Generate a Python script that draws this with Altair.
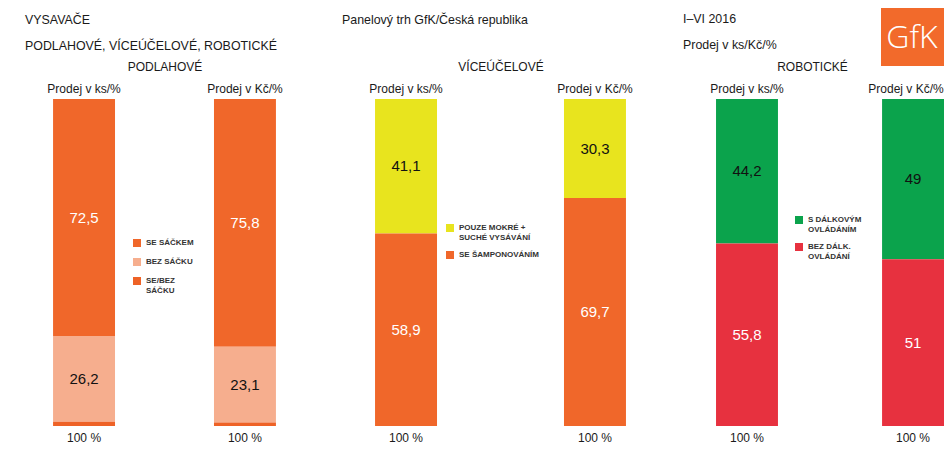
import altair as alt
import pandas as pd

measures = ["Prodej v ks/%", "Prodej v Kč/%"]

# PODLAHOVÉ
p1_cats = ["SE SÁČKEM", "BEZ SÁČKU", "SE/BEZ SÁČKU"]
p1_ks = [72.5, 26.2, 1.3]
p1_kc = [75.8, 23.1, 1.1]
p1_colors = ["#F0672A", "#F6AE8E", "#EE6226"]
p1_dark = ["BEZ SÁČKU"]

# VÍCEÚČELOVÉ
p2_cats = ["POUZE MOKRÉ + SUCHÉ VYSÁVÁNÍ", "SE ŠAMPONOVÁNÍM"]
p2_ks = [41.1, 58.9]
p2_kc = [30.3, 69.7]
p2_colors = ["#E8E41E", "#F0672A"]
p2_dark = ["POUZE MOKRÉ + SUCHÉ VYSÁVÁNÍ"]

# ROBOTICKÉ
p3_cats = ["S DÁLKOVÝM OVLÁDÁNÍM", "BEZ DÁLK. OVLÁDÁNÍ"]
p3_ks = [44.2, 55.8]
p3_kc = [49, 51]
p3_colors = ["#0BA34C", "#E7313F"]
p3_dark = ["S DÁLKOVÝM OVLÁDÁNÍM"]

legend_breaks = {
    "SE/BEZ SÁČKU": ["SE/BEZ", "SÁČKU"],
    "POUZE MOKRÉ + SUCHÉ VYSÁVÁNÍ": ["POUZE MOKRÉ +", "SUCHÉ VYSÁVÁNÍ"],
    "S DÁLKOVÝM OVLÁDÁNÍM": ["S DÁLKOVÝM", "OVLÁDÁNÍM"],
    "BEZ DÁLK. OVLÁDÁNÍ": ["BEZ DÁLK.", "OVLÁDÁNÍ"],
}

FONT = "Liberation Sans"
H = 327


def label_expr(breaks):
    expr = "datum.label"
    for name, lines in breaks.items():
        arr = "[" + ", ".join("'" + l + "'" for l in lines) + "]"
        expr = f"datum.label === '{name}' ? {arr} : ({expr})"
    return expr


def fmt(v):
    return f"{v:g}".replace(".", ",")


def panel(cats, ks, kc, colors, dark, axis_title, title_lines, title_dx, title_offset,
          width, pi, po, align, lx, ly, row_pad, logo=False, last_label_shift=0):
    rows = []
    for m, vals in zip(measures, [ks, kc]):
        for i, (c, v) in enumerate(zip(cats, vals)):
            rows.append({"measure": m, "cat": c, "share": v, "k": i, "label": fmt(v)})
    df = pd.DataFrame(rows)

    axis_kw = dict(orient="top", title=axis_title, labelAngle=0, domain=False,
                   ticks=False, labelPadding=4, titlePadding=9,
                   labelFontSize=12, titleFontSize=12, titleFontWeight="normal",
                   labelColor="#1a1a1a", titleColor="#1a1a1a", labelFont=FONT,
                   titleFont=FONT)
    if last_label_shift:
        axis_kw["labelOffset"] = {
            "condition": {"test": f"datum.label === '{measures[-1]}'",
                          "value": last_label_shift},
            "value": 0,
        }
    x = alt.X(
        "measure:N", sort=measures,
        scale=alt.Scale(paddingInner=pi, paddingOuter=po, align=align),
        axis=alt.Axis(**axis_kw),
    )
    yscale = alt.Scale(domain=[0, 100])
    base = alt.Chart(df)

    bars = base.mark_bar().encode(
        x=x,
        y=alt.Y("share:Q", stack="zero", scale=yscale, axis=None),
        color=alt.Color(
            "cat:N", sort=cats,
            scale=alt.Scale(domain=cats, range=colors),
            legend=alt.Legend(
                orient="none", legendX=lx, legendY=ly, title=None,
                symbolType="square", symbolSize=64, symbolStrokeWidth=0,
                labelFontSize=8, labelFontWeight="bold", labelColor="#333333",
                labelFont=FONT, labelOffset=5, rowPadding=row_pad, padding=0,
                labelExpr=label_expr(legend_breaks), labelLimit=200,
            ),
        ),
        order=alt.Order("k:Q", sort="descending"),
    )

    values = base.transform_stack(
        stack="share", groupby=["measure"], as_=["y0", "y1"],
        sort=[alt.SortField("k", order="descending")],
    ).transform_calculate(
        mid="(datum.y0 + datum.y1) / 2"
    ).transform_filter("datum.share >= 5").mark_text(
        fontSize=15, font=FONT
    ).encode(
        x=x,
        y=alt.Y("mid:Q", scale=yscale, axis=None),
        text="label:N",
        color=alt.condition(alt.FieldOneOfPredicate(field="cat", oneOf=dark),
                            alt.value("#111111"), alt.value("#FFFFFF")),
    )

    totals = base.transform_aggregate(
        total="sum(share)", groupby=["measure"]
    ).transform_calculate(
        lbl="format(round(datum.total), 'd') + ' %'"
    ).mark_text(fontSize=12, dy=12, font=FONT, color="#1a1a1a").encode(
        x=x,
        y=alt.YDatum(0, scale=yscale, axis=None),
        text="lbl:N",
    )

    layers = [bars, values, totals]
    if logo:
        ldf = pd.DataFrame({"t": ["GfK"]})
        lbase = alt.Chart(ldf)
        rect = lbase.mark_rect(color="#F26A2B").encode(
            x=alt.value(201), x2=alt.value(264),
            y=alt.value(-91), y2=alt.value(-33),
        )
        ltxt = lbase.mark_text(fontSize=32, font="Open Sans", fontWeight=300,
                               color="white").encode(
            x=alt.value(232), y=alt.value(-61), text="t:N"
        )
        layers += [rect, ltxt]

    return alt.layer(*layers).properties(
        width=width, height=H,
        title=alt.TitleParams(
            text=title_lines, anchor="start", dx=title_dx, fontSize=12.4,
            fontWeight="normal", color="#1a1a1a", lineHeight=26, offset=title_offset,
            frame="group", font=FONT,
        ),
    )


c1 = panel(p1_cats, p1_ks, p1_kc, p1_colors, p1_dark, "PODLAHOVÉ",
           ["VYSAVAČE", "PODLAHOVÉ, VÍCEÚČELOVÉ, ROBOTICKÉ"], 17, 7.5,
           313, 0.615, 0.28, 0.5, 125, 140, 11)
c2 = panel(p2_cats, p2_ks, p2_kc, p2_colors, p2_dark, "VÍCEÚČELOVÉ",
           ["Panelový trh GfK/Česká republika", " "], 21, 7.5,
           359, 0.672, 0.286, 0.5, 125, 125, 9)
c3 = panel(p3_cats, p3_ks, p3_kc, p3_colors, p3_dark, "ROBOTICKÉ",
           ["I–VI 2016", "Prodej v ks/Kč/%"], 3, -43,
           264, 0.627, 0.1085, 1.0, 115, 117, 9, logo=True, last_label_shift=-7)

chart = alt.hconcat(c1, c2, c3, spacing=0, bounds="flush").resolve_scale(
    color="independent"
).properties(
    padding={"left": 0, "top": 0, "right": 0, "bottom": 0}
).configure(font=FONT).configure_view(stroke=None)

chart.save("out.html", embed_options={"renderer": "svg", "actions": False})
